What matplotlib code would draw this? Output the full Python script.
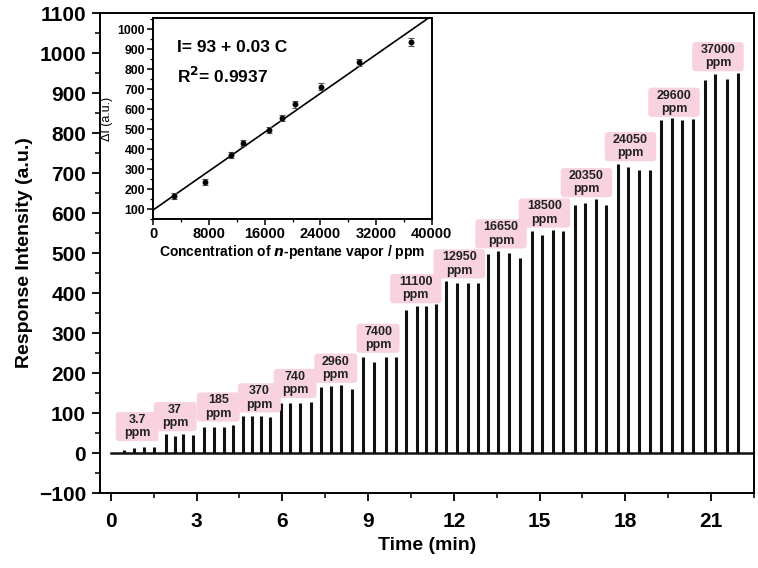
import matplotlib
matplotlib.use("Agg")
import matplotlib.pyplot as plt
from matplotlib.patches import FancyBboxPatch
from matplotlib.ticker import MultipleLocator
import numpy as np

plt.rcParams['font.family'] = ['Liberation Sans', 'DejaVu Sans']
plt.rcParams['font.weight'] = 'bold'

# concentration steps (ppm), 4 injections each
conc_labels = ["3.7", "37", "185", "370", "740", "2960", "7400", "11100",
               "12950", "16650", "18500", "20350", "24050", "29600", "37000"]

# injection times (min) for each step
pulse_times = [
    [0.47, 0.82, 1.17, 1.52],
    [1.92, 2.25, 2.54, 2.86],
    [3.27, 3.62, 3.97, 4.29],
    [4.61, 4.93, 5.25, 5.56],
    [5.97, 6.26, 6.61, 6.99],
    [7.34, 7.69, 8.06, 8.45],
    [8.83, 9.21, 9.62, 9.99],
    [10.34, 10.70, 11.02, 11.37],
    [11.73, 12.10, 12.48, 12.83],
    [13.20, 13.55, 13.94, 14.32],
    [14.72, 15.10, 15.47, 15.83],
    [16.24, 16.59, 16.97, 17.32],
    [17.76, 18.09, 18.46, 18.85],
    [19.25, 19.62, 19.98, 20.35],
    [20.77, 21.14, 21.55, 21.93],
]

# peak response of each injection (a.u.)
pulse_heights = [
    [8, 13, 15, 15],
    [47, 43, 47, 44],
    [65, 66, 65, 71],
    [92, 92, 92, 91],
    [125, 125, 125, 128],
    [165, 168, 171, 160],
    [241, 228, 241, 239],
    [358, 368, 368, 373],
    [431, 425, 425, 425],
    [498, 506, 500, 487],
    [554, 546, 557, 554],
    [621, 626, 636, 621],
    [723, 715, 707, 708],
    [832, 837, 833, 835],
    [933, 947, 935, 950],
]

# label anchor (time, intensity)
label_t = [0.92, 2.25, 3.76, 5.20, 6.45, 7.87, 9.35, 10.67,
           12.19, 13.65, 15.17, 16.64, 18.18, 19.70, 21.24]
label_v = [66, 91, 115, 138, 174, 212, 287, 411,
           473, 548, 600, 676, 766, 877, 991]

run_start, run_end = 0.0, 22.5

# inset calibration data
cal_conc = [2960, 7400, 11100, 12950, 16650, 18500, 20350, 24050, 29600, 37000]
cal_dI = [163, 237, 372, 430, 497, 555, 625, 713, 835, 938]
cal_err = [15, 15, 15, 15, 15, 16, 18, 18, 18, 20]
fit_intercept = 96
fit_slope = 0.0243

fig = plt.figure(figsize=(7.58, 5.68), dpi=100)
ax = fig.add_axes([0.1319, 0.132, 0.8628, 0.845])

ax.plot([run_start, run_end], [0, 0], color='#111111', lw=1.8, zorder=2)
ts = np.concatenate(pulse_times)
hs = np.concatenate(pulse_heights)
ax.vlines(ts, 0, hs, color='#111111', lw=2.2, zorder=2)

for lab, t, v in zip(conc_labels, label_t, label_v):
    w = 1.8 if len(lab) >= 5 else 1.5
    h = 73
    box = FancyBboxPatch((t - w / 2, v - h / 2), w, h,
                         boxstyle="round,pad=0,rounding_size=0.12",
                         mutation_aspect=71.4, fc='#f8d3df', ec='none', zorder=3)
    ax.add_patch(box)
    ax.text(t, v, lab + "\nppm", ha='center', va='center', fontsize=9,
            fontweight='bold', color='#222222', linespacing=1.15, zorder=4)

ax.set_xlim(-0.38, 22.5)
ax.set_ylim(-100, 1100)
ax.xaxis.set_major_locator(MultipleLocator(3))
ax.xaxis.set_minor_locator(MultipleLocator(1.5))
ax.yaxis.set_major_locator(MultipleLocator(100))
ax.yaxis.set_minor_locator(MultipleLocator(50))
ax.tick_params(which='major', direction='out', length=6, width=1.3, labelsize=15, pad=4)
ax.tick_params(axis='x', pad=8)
ax.tick_params(which='minor', direction='out', length=3.5, width=1.1)
for lbl in ax.get_xticklabels() + ax.get_yticklabels():
    lbl.set_fontweight('bold')
for s in ax.spines.values():
    s.set_linewidth(1.4)
ax.set_xlabel("Time (min)", fontsize=14, fontweight='bold', labelpad=4)
ax.set_ylabel("Response Intensity (a.u.)", fontsize=14, fontweight='bold', labelpad=4)

# inset
ins = fig.add_axes([0.2023, 0.6144, 0.3673, 0.3533])
ins.errorbar(cal_conc, cal_dI, yerr=cal_err, fmt='o', ms=3.2, color='black',
             ecolor='#555555', elinewidth=0.9, capsize=2, capthick=0.8, zorder=3)
cx = np.array([0, 40000])
ins.plot(cx, fit_intercept + fit_slope * cx, color='black', lw=1.2, zorder=2)
ins.set_xlim(0, 40000)
ins.set_ylim(50, 1055)
ins.xaxis.set_major_locator(MultipleLocator(8000))
ins.xaxis.set_minor_locator(MultipleLocator(4000))
ins.yaxis.set_major_locator(MultipleLocator(100))
ins.yaxis.set_minor_locator(MultipleLocator(50))
ins.set_yticks(np.arange(100, 1001, 100))
ins.tick_params(which='major', direction='out', length=4, width=1.1, pad=2)
ins.tick_params(axis='x', labelsize=10.5)
ins.tick_params(axis='y', labelsize=8.8)
ins.tick_params(which='minor', direction='out', length=2.5, width=0.9)
for lbl in ins.get_xticklabels() + ins.get_yticklabels():
    lbl.set_fontweight('bold')
for s in ins.spines.values():
    s.set_linewidth(1.4)
ins.set_xlabel("Concentration of $\\bf{\\it{n}}$-pentane vapor / ppm", fontsize=10,
               fontweight='bold', labelpad=1)
ins.set_ylabel("ΔI (a.u.)", fontsize=9, fontweight='normal', labelpad=3)
ins.text(0.085, 0.855, "I= 93 + 0.03 C", transform=ins.transAxes, fontsize=12.5,
         fontweight='bold', va='center')
ins.text(0.085, 0.715, "R$^\\mathbf{2}$= 0.9937", transform=ins.transAxes, fontsize=12.5,
         fontweight='bold', va='center')

fig.savefig("out.png", dpi=100)
